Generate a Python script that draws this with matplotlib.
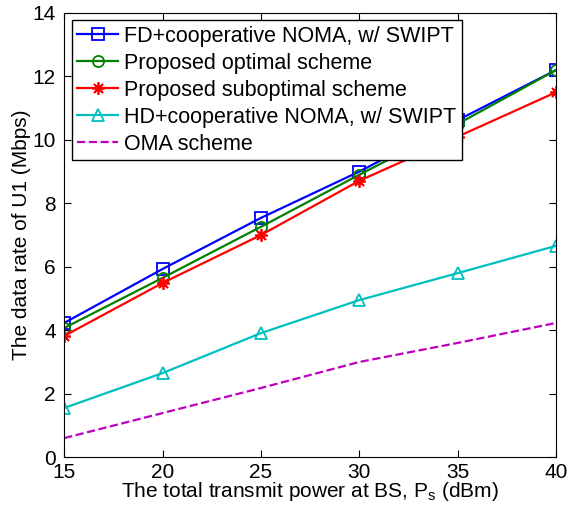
import numpy as np
import matplotlib
matplotlib.use('Agg')
import matplotlib.pyplot as plt

plt.rcParams['font.family'] = ['Liberation Sans', 'DejaVu Sans']

power = [15, 20, 25, 30, 35, 40]
fd_noma = [4.23, 5.93, 7.54, 9.0, 10.62, 12.2]
optimal = [4.07, 5.65, 7.26, 8.9, 10.5, 12.2]
suboptimal = [3.82, 5.49, 7.0, 8.71, 10.1, 11.5]
hd_noma = [1.55, 2.65, 3.91, 4.95, 5.8, 6.66]
oma = [0.6, 1.39, 2.18, 3.0, 3.6, 4.23]

fig = plt.figure(figsize=(5.68, 5.16), dpi=100)
ax = fig.add_axes([0.113, 0.114, 0.866, 0.861])

ax.plot(power, fd_noma, '-s', color='#0000ff', lw=1.6, ms=8, mfc='none', mew=1.3,
        label='FD+cooperative NOMA, w/ SWIPT')
ax.plot(power, optimal, '-o', color='#008000', lw=1.6, ms=8, mfc='none', mew=1.3,
        label='Proposed optimal scheme')
ax.plot(power, suboptimal, '-', marker=(8, 2, 0), color='#ff0000', lw=1.6, ms=9, mew=1.3,
        label='Proposed suboptimal scheme')
ax.plot(power, hd_noma, '-^', color='#00bfbf', lw=1.6, ms=9, mfc='none', mew=1.3,
        label='HD+cooperative NOMA, w/ SWIPT')
ax.plot(power, oma, '--', color='#bf00bf', lw=1.6, label='OMA scheme')

ax.set_xlim(15, 40)
ax.set_ylim(0, 14)
ax.set_xticks([15, 20, 25, 30, 35, 40])
ax.set_yticks(np.arange(0, 15, 2))
ax.tick_params(direction='in', top=True, right=True, labelsize=15, length=5)
ax.tick_params(axis='x', pad=4)
ax.tick_params(axis='y', pad=6)
ax.set_xlabel('The total transmit power at BS, P$_\\mathregular{s}$ (dBm)', fontsize=15, labelpad=-1)
ax.set_ylabel('The data rate of U1 (Mbps)', fontsize=15, labelpad=1)

leg = ax.legend(loc='upper left', fontsize=15.5, frameon=True, fancybox=False,
                edgecolor='black', framealpha=1.0, borderpad=0.25, labelspacing=0.28,
                handlelength=1.9, handletextpad=0.3, borderaxespad=0.35)
leg.get_frame().set_linewidth(1.0)

fig.savefig('out.png', dpi=100)
